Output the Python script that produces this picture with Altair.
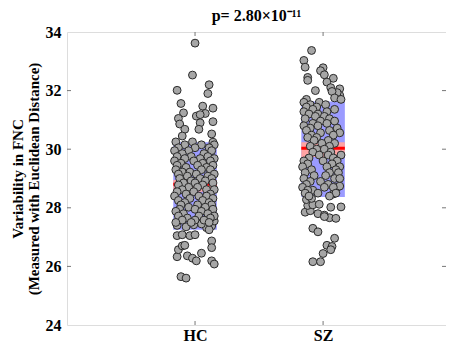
import altair as alt
import pandas as pd

groups = ["HC", "SZ"]
group_pos = [1, 2]

# summary statistics (mean, ±1 SD, 95% CI)
means = [28.80, 30.03]
sd_low = [27.25, 28.37]
sd_high = [30.24, 31.63]
ci_low = [28.55, 29.73]
ci_high = [28.95, 30.24]

# (jitter, value) pairs for each subject
hc_points = [
    (0.00, 33.62), (-0.02, 32.53), (-0.14, 32.01), (0.11, 32.20), (0.10, 31.90), (-0.11, 31.56),
    (0.06, 31.47), (0.14, 31.40), (-0.09, 31.24), (0.08, 31.22), (-0.13, 31.05), (0.01, 31.13),
    (0.04, 31.18), (0.14, 30.94), (-0.12, 30.86), (0.04, 30.90), (-0.08, 30.68), (0.03, 30.68),
    (0.13, 30.52), (0.14, 30.24), (-0.10, 30.45),
    (-0.14, 26.33), (-0.13, 26.57), (-0.06, 26.36), (-0.02, 26.28), (0.01, 26.19), (0.05, 26.45),
    (0.13, 26.19), (0.15, 26.08), (-0.11, 25.65), (-0.07, 25.60), (0.13, 26.87), (0.13, 26.64),
    (-0.10, 26.70), (-0.08, 26.72), (-0.14, 27.05), (-0.10, 27.08), (-0.04, 27.05), (0.00, 27.08),
    (0.13, 27.38), (0.09, 27.32), (0.05, 27.45), (-0.14, 27.40), (-0.07, 27.35), (-0.01, 27.42),
    (0.11, 27.25), (0.15, 27.55),
    (-0.15, 30.25), (-0.02, 30.25), (-0.08, 30.15), (0.05, 30.15), (0.15, 30.15),
    (-0.13, 30.05), (0.00, 30.05), (0.11, 30.05), (-0.16, 29.95), (-0.05, 29.95), (0.13, 29.95),
    (-0.10, 29.85), (0.07, 29.85), (-0.14, 29.75), (-0.03, 29.75), (0.10, 29.75),
    (-0.08, 29.68), (0.04, 29.68), (0.15, 29.68), (-0.16, 29.60), (-0.01, 29.60), (0.12, 29.60),
    (-0.11, 29.52), (0.06, 29.52), (-0.14, 29.45), (0.02, 29.45), (0.14, 29.45),
    (-0.07, 29.38), (0.09, 29.38), (-0.15, 29.30), (0.05, 29.30), (0.12, 29.30),
    (-0.10, 29.22), (-0.04, 29.22), (-0.13, 29.15), (0.01, 29.15), (0.15, 29.15),
    (-0.06, 29.08), (0.10, 29.08), (-0.12, 29.00), (0.04, 29.00), (0.13, 29.00),
    (-0.03, 28.92), (0.08, 28.92), (-0.09, 28.85), (0.00, 28.85), (0.14, 28.85),
    (-0.13, 28.78), (0.06, 28.78), (-0.05, 28.70), (0.02, 28.70),
    (-0.10, 28.62), (0.09, 28.62), (0.15, 28.62), (-0.14, 28.55), (-0.01, 28.55),
    (-0.07, 28.47), (0.12, 28.47), (-0.16, 28.40), (0.03, 28.40), (0.09, 28.40),
    (-0.04, 28.32), (0.14, 28.32), (-0.13, 28.25), (0.06, 28.25),
    (-0.08, 28.18), (0.11, 28.18), (-0.11, 28.10), (0.02, 28.10), (0.13, 28.10),
    (-0.05, 28.02), (0.08, 28.02), (-0.12, 27.95), (0.00, 27.95), (0.14, 27.95),
    (-0.15, 27.88), (0.05, 27.88), (-0.09, 27.80), (0.10, 27.80),
    (-0.13, 27.72), (0.03, 27.72), (0.15, 27.72), (-0.06, 27.65), (0.12, 27.65),
    (-0.10, 27.58), (0.00, 27.58), (0.07, 27.58), (-0.03, 27.50), (-0.15, 27.50), (0.11, 27.50),
]

sz_points = [
    (-0.09, 33.37), (-0.15, 33.03), (-0.14, 32.80), (0.00, 32.78), (-0.02, 32.68), (0.01, 32.54),
    (-0.12, 32.45), (-0.12, 32.35), (0.08, 32.42), (0.03, 32.29), (0.06, 32.10), (0.13, 32.06),
    (0.13, 31.84), (-0.06, 32.00), (0.11, 31.93), (0.07, 31.97), (0.09, 31.75), (-0.13, 31.70),
    (0.14, 31.70),
    (-0.08, 27.30), (-0.04, 27.18), (0.09, 26.96), (0.03, 26.72), (0.07, 26.68), (0.06, 26.57),
    (0.00, 26.44), (-0.08, 26.16), (-0.02, 26.16), (-0.14, 27.85), (-0.10, 27.90), (-0.04, 27.80),
    (0.01, 27.75), (0.05, 27.66), (0.10, 27.64), (0.06, 28.02), (0.14, 28.03), (-0.12, 28.08),
    (-0.08, 28.10), (-0.03, 28.12), (-0.13, 28.28), (-0.09, 28.32), (0.08, 28.47), (0.11, 28.70),
    (0.13, 28.74), (0.01, 27.70),
    (-0.15, 31.60), (-0.03, 31.60), (-0.10, 31.52), (0.02, 31.52),
    (-0.13, 31.44), (-0.05, 31.44), (-0.08, 31.36), (0.09, 31.36),
    (-0.15, 31.28), (0.03, 31.28), (-0.11, 31.20), (-0.04, 31.20),
    (-0.06, 31.12), (0.01, 31.12), (-0.14, 31.04), (0.05, 31.04),
    (-0.02, 30.96), (0.09, 30.96), (-0.08, 30.88), (0.03, 30.88),
    (-0.15, 30.80), (-0.04, 30.80), (-0.10, 30.72), (0.11, 30.72),
    (-0.13, 30.64), (0.05, 30.64), (-0.02, 30.56), (0.13, 30.56),
    (-0.09, 30.48), (0.08, 30.48), (-0.12, 30.40), (-0.05, 30.40),
    (-0.07, 30.30), (0.04, 30.30), (-0.01, 30.20), (0.09, 30.20),
    (-0.10, 30.10), (0.05, 30.10), (-0.05, 30.00), (0.01, 30.00),
    (-0.08, 29.90), (0.06, 29.90), (-0.03, 29.80), (0.04, 29.80), (0.14, 29.80),
    (-0.11, 29.70), (0.08, 29.70), (-0.15, 29.60), (0.00, 29.60), (0.11, 29.60),
    (-0.12, 29.50), (0.07, 29.50), (-0.16, 29.40), (0.03, 29.40), (0.13, 29.40),
    (-0.09, 29.30), (0.10, 29.30), (-0.14, 29.20), (0.05, 29.20), (0.12, 29.20),
    (-0.07, 29.10), (0.02, 29.10), (-0.15, 29.00), (0.09, 29.00), (0.13, 29.00),
    (-0.10, 28.90), (-0.02, 28.90), (-0.13, 28.80), (0.04, 28.80),
    (-0.16, 28.70), (0.01, 28.70), (0.08, 28.70), (-0.08, 28.60), (-0.12, 28.60),
    (-0.14, 28.50), (-0.04, 28.50), (0.10, 28.50), (-0.11, 28.40), (0.05, 28.40),
]

y_ticks = [24, 26, 28, 30, 32, 34]
inner_ticks = [26, 28, 30, 32]

rows = []
for pos, name, pts in [(1, "HC", hc_points), (2, "SZ", sz_points)]:
    for j, v in pts:
        rows.append({"group": name, "x": pos + j, "value": v})
pts_df = pd.DataFrame(rows)

half = 0.17
box_df = pd.DataFrame({
    "group": groups, "pos": group_pos,
    "x1": [p - half for p in group_pos], "x2": [p + half for p in group_pos],
    "mean": means, "sd_low": sd_low, "sd_high": sd_high,
    "ci_low": ci_low, "ci_high": ci_high,
})
ticks_df = pd.DataFrame({"t": inner_ticks})
xt_df = pd.DataFrame({"pos": group_pos})

FONT = "Liberation Serif"
W, H = 379, 293
xscale = alt.Scale(domain=[0, 2.96], nice=False, zero=False)
yscale = alt.Scale(domain=[24, 34], nice=False, zero=False)

label_expr = " : ".join(
    [f"datum.value == {p} ? '{g}'" for p, g in zip(group_pos, groups)]
) + " : ''"

xaxis = alt.Axis(values=group_pos, labelExpr=label_expr, title=None, ticks=False,
                 domain=False, grid=False, labelFont=FONT, labelFontSize=16,
                 labelFontWeight="bold", labelColor="black", labelPadding=2)
yaxis = alt.Axis(values=y_ticks, title=["Variability in FNC", "(Measured with Euclidean Distance)"],
                 ticks=False, domain=False, grid=False, labelFont=FONT, labelFontSize=16,
                 labelFontWeight="bold", labelColor="black", labelPadding=6,
                 titleFont=FONT, titleFontSize=15, titleFontWeight="bold", titleColor="black",
                 titlePadding=4, titleLineHeight=16)

sd_box = alt.Chart(box_df).mark_rect(color="#9b9bff").encode(
    x=alt.X("x1:Q", scale=xscale, axis=xaxis), x2="x2:Q",
    y=alt.Y("sd_low:Q", scale=yscale, axis=yaxis), y2="sd_high:Q")
ci_box = alt.Chart(box_df).mark_rect(color="#ffa3a3").encode(
    x=alt.X("x1:Q", scale=xscale), x2="x2:Q",
    y=alt.Y("ci_low:Q", scale=yscale), y2="ci_high:Q")
mean_line = alt.Chart(box_df).mark_rule(color="#ff0000", strokeWidth=3).encode(
    x=alt.X("x1:Q", scale=xscale), x2="x2:Q", y=alt.Y("mean:Q", scale=yscale))
points = alt.Chart(pts_df).mark_circle(size=62, opacity=1, color="#a6a6a6",
                                       stroke="#2a2a2a", strokeWidth=1).encode(
    x=alt.X("x:Q", scale=xscale), y=alt.Y("value:Q", scale=yscale))

left_ticks = alt.Chart(ticks_df).mark_rule(color="#777").encode(
    y=alt.Y("t:Q", scale=yscale), x=alt.value(0), x2=alt.value(4))
right_ticks = alt.Chart(ticks_df).mark_rule(color="#777").encode(
    y=alt.Y("t:Q", scale=yscale), x=alt.value(W - 4), x2=alt.value(W))
top_ticks = alt.Chart(xt_df).mark_rule(color="#777").encode(
    x=alt.X("pos:Q", scale=xscale), y=alt.value(0), y2=alt.value(4))
bottom_ticks = alt.Chart(xt_df).mark_rule(color="#777").encode(
    x=alt.X("pos:Q", scale=xscale), y=alt.value(H - 4), y2=alt.value(H))

chart = alt.layer(
    sd_box, ci_box, mean_line, points, left_ticks, right_ticks, top_ticks, bottom_ticks
).properties(
    width=W, height=H,
    title=alt.TitleParams("p= 2.80×10⁻¹¹", font=FONT, fontSize=16, fontWeight="bold",
                          color="black", offset=0, anchor="middle"),
    padding={"left": 59, "top": 24, "right": 0, "bottom": 19},
    autosize=alt.AutoSizeParams(type="none"),
).configure_view(stroke="#888888", strokeWidth=1.2).configure(background="white")

chart.save("out.html", embed_options={"renderer": "svg", "actions": False})
